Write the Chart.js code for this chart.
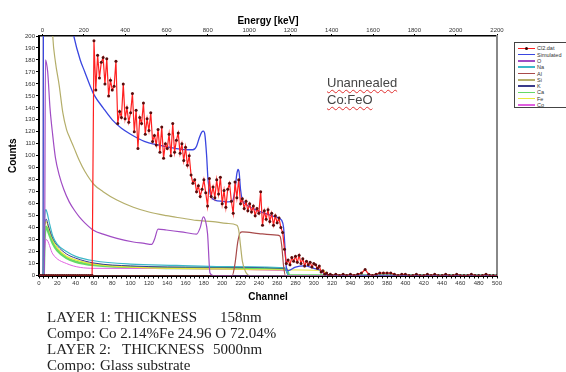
<!DOCTYPE html>
<html>
<head>
<meta charset="utf-8">
<script src="https://cdn.jsdelivr.net/npm/chart.js@4.4.1/dist/chart.umd.min.js"></script>
<style>
  html, body { margin: 0; padding: 0; background: #fff; overflow: hidden; }
  #wrap { position: relative; width: 566px; height: 372px; }
  canvas { position: absolute; left: 0; top: 0; }
  .note { position: absolute; font-family: 'Liberation Sans', Arial, sans-serif; font-size: 13px; color: #444;
          text-decoration: underline wavy #e03030; text-decoration-thickness: 1px; text-underline-offset: 2px; white-space: pre; }
  #legend { position: absolute; left: 514px; top: 42px; width: 60px; height: 66px; border: 1px solid #444; box-sizing: border-box; background: #fff; }
  #legend .ln { position: absolute; left: 3px; width: 17px; height: 1.5px; }
  #legend .dot { position: absolute; left: 10px; width: 3px; height: 3px; border-radius: 50%; background: #300; }
  #legend .lb { position: absolute; left: 22px; font-family: 'Liberation Sans', Arial, sans-serif; font-size: 5.5px; line-height: 6px; color: #333; white-space: pre; }
  .info { position: absolute; font-family: 'Liberation Serif', 'Times New Roman', serif; font-size: 15px; line-height: 16px; color: #222; white-space: pre; }
</style>
</head>
<body>
<div id="wrap">
  <canvas id="c" width="566" height="372"></canvas>
  <div class="note" style="left:327px;top:75px">Unannealed</div>
  <div class="note" style="left:327px;top:92px">Co:FeO</div>
  <div id="legend"></div>
  <div class="info" style="left:47px;top:309px">LAYER 1: THICKNESS</div>
  <div class="info" style="left:220px;top:309px">158nm</div>
  <div class="info" style="left:47px;top:325px">Compo: Co 2.14%Fe 24.96 O 72.04%</div>
  <div class="info" style="left:47px;top:341px">LAYER 2:</div>
  <div class="info" style="left:122px;top:341px">THICKNESS</div>
  <div class="info" style="left:213px;top:341px">5000nm</div>
  <div class="info" style="left:47px;top:357px">Compo:</div>
  <div class="info" style="left:100px;top:357px">Glass substrate</div>
</div>
<script>
// tick labels
const channelMajor = [0,20,40,60,80,100,120,140,160,180,200,220,240,260,280,300,320,340,360,380,400,420,440,460,480,500];
const energyTicks = [0,200,400,600,800,1000,1200,1400,1600,1800,2000,2200];

// measured spectrum (Cl2.dat): three channel segments
const countsLow = [0,0,0,0,0,0,0,0,0,0,0,0,0,0,0,0,0,0,0,0,0,0,0,0,0,0,0,0,0,0]; // ch 0..58 step 2
const countsMain = [196,155,184,165,178,182,160,181,150,163,
  155,158,179,127,137,132,160,131,140,128,
  136,152,120,138,106,132,127,144,118,131,
  121,136,112,117,109,122,103,124,98,110,
  106,118,100,127,103,113,119,102,110,96,
  107,92,100,84,77,80,70,75,66,72,
  80,69,58,81,66,74,65,80,68,82,
  60,71,57,72,77,62,52,78,65,80,
  60,64,56,62,54,60,53,58,50,56,
  52,70,42,54,47,55,45,52,42,50,
  44,48,40,36,22,10,13,9,15,12,
  16,11,17,10,14,8,12,9,11,7,
  10,9,6,8,3,4,1,2,0,1,0]; // ch 60..320 step 2
const countsTail = [1,0,1,0,1,0,1,2,5,1,0,1,2,2,2,2,1,0,1,1,0,0,1,0,0,1,0,1,0,0,1,0,0,1,0,0,0,1,0,0,0,1,0,0,0]; // ch 324..500 step 4

// simulated spectrum
const simCh = [0,4.5,5,10,20,30,38,45,50,55,60,70,80,90,100,115,130,150,165,168,172,175,177.5,179.4,181,183,184.5,187,192,200,206,211,214,216,217.3,218.5,220,222,225,236,250,258,265,267,268.5,270,272,280,290,300,308,312,320,500];
const simVal = [0,0,420,380,300,235,200,180,170,160,151,140,130,123,118,112,109,106,105,105,108,115,119.5,120.5,118,100,80,68,63,62,61.5,62,72,85,88.5,86,72,63,60,55,51,49,46,40,24,7,4,7,8,6,4,1,0,0];

// element contributions
const oCh = [0,6,7,8,9.5,12,15,18,22,27,33,40,44,50,60,70,85,103,115,123,126,130,139,155,172,176,179.4,182,184,186.7,190,500];
const oVal = [0,0,180,178,170,140,117,98,84,72,61.5,53,49,44,37.5,34.5,31,28,26.8,26,30,38.7,38,36.5,34.6,40,49,45,35,2,0,0];
const siCh = [0,4.5,5,10,15,18,22,26,30,33,38,44,50,60,70,85,103,120,139,155,172,190,205,216,218,220,222,225,230,500];
const siVal = [0,0,400,300,200,178,159,136,122,116,107,96,87,76,70,63,57,53,50,48,46,45,43.5,42,38,25,12,4,0,0];
const alCh = [0,211,214,217,219.5,222,240,259.5,263,265,267,269,500];
const alVal = [0,0,10,28,35.5,36.5,35,33.7,33,25,8,0,0];
const naCh = [0,5,6,7.6,9,11,15,20,30,40,60,100,150,200,268,271,272,500];
const naVal = [0,0,45,55,52,45,33,26,20,16,12.3,9.5,8.5,7.5,6.5,2,0,0];
const kCh = [0,5,6,8,10,15,20,30,40,60,100,180,268,271,272,500];
const kVal = [0,0,40,47,42,31,25,18,14.5,10.4,8,7,6,2,0,0];
const caCh = [0,5,6,8,10,15,20,30,40,60,100,150,270,272,273,500];
const caVal = [0,0,30,40.7,37,27,21,14.6,11.5,8.7,7,6.2,5.5,2,0,0];
const feCh = [0,5,6,8,10,15,20,30,40,60,100,200,250,310,314,316,500];
const feVal = [0,0,38,45,41,30,23,16,13,9.5,7,5.5,4.8,4.2,1,0,0];
const coCh = [0,5,6,8,15,30,60,270,272,500];
const coVal = [0,0,20,30,18,10,6,4,0,0];

const legendNames = ['Cl2.dat','Simulated','O','Na','Al','Si','K','Ca','Fe','Co'];
const legendColors = ['#ff2020','#3a46e0','#a04cc4','#3cb8c8','#a84a4a','#b4ae6a','#3a3a8a','#66d966','#e8e83c','#e060e0'];

function pts(ch, vals) { return ch.map((c, i) => ({ x: c, y: vals[i] })); }
function seg(start, step, vals) { return vals.map((v, i) => ({ x: start + i * step, y: v })); }

const measured = [].concat(seg(0, 2, countsLow), seg(60, 2, countsMain), seg(324, 4, countsTail));

function curve(label, data, color, width) {
  return { label, data, borderColor: color, backgroundColor: color, borderWidth: width || 1.2,
           pointRadius: 0, cubicInterpolationMode: 'monotone', fill: false };
}

const minorTicks = [];
for (let v = 0; v <= 500; v += 5) minorTicks.push(v);

const tickFont = { family: 'Liberation Sans', size: 6 };
const titleFont = { family: 'Liberation Sans', size: 10, weight: 'bold' };

new Chart(document.getElementById('c'), {
  type: 'line',
  data: {
    datasets: [
      { label: 'Cl2.dat', data: measured, borderColor: '#ff2020', borderWidth: 1.2, tension: 0,
        pointRadius: 1.5, pointBackgroundColor: '#5a0c0c', pointBorderColor: '#5a0c0c', pointBorderWidth: 0 },
      curve('Simulated', pts(simCh, simVal), '#3a46e0', 1.3),
      curve('O', pts(oCh, oVal), '#a04cc4'),
      curve('Si', pts(siCh, siVal), '#b4ae6a'),
      curve('Al', pts(alCh, alVal), '#a84a4a'),
      curve('Na', pts(naCh, naVal), '#3cb8c8'),
      curve('K', pts(kCh, kVal), '#3a3a8a', 1),
      curve('Fe', pts(feCh, feVal), '#e8e83c'),
      curve('Co', pts(coCh, coVal), '#e060e0', 1),
      curve('Ca', pts(caCh, caVal), '#66d966', 2.5)
    ]
  },
  options: {
    responsive: false,
    animation: false,
    devicePixelRatio: 1,
    layout: { padding: { left: 0, right: 68, top: 0, bottom: 66.5 } },
    plugins: { legend: { display: false }, tooltip: { enabled: false } },
    scales: {
      x: {
        type: 'linear', position: 'bottom', min: 0, max: 500,
        afterBuildTicks: s => { s.ticks = minorTicks.map(v => ({ value: v })); },
        afterFit: s => { s.height = 30; },
        ticks: { autoSkip: false, maxRotation: 0, font: tickFont, color: '#333', padding: 1.5,
                 callback: v => channelMajor.includes(Math.round(v)) ? String(Math.round(v)) : '' },
        grid: { drawOnChartArea: false, drawTicks: true, tickLength: 3, color: '#000' },
        border: { color: '#000', width: 2 },
        title: { display: true, text: 'Channel', font: titleFont, color: '#000', padding: { top: 0, bottom: 2.5 } }
      },
      x2: {
        type: 'linear', position: 'top', min: -17, max: 2200,
        afterBuildTicks: s => { s.ticks = energyTicks.map(v => ({ value: v })); },
        afterFit: s => { s.height = 36; },
        ticks: { autoSkip: false, maxRotation: 0, font: tickFont, color: '#333', padding: 0,
                 callback: v => String(Math.round(v)) },
        grid: { drawOnChartArea: false, drawTicks: true, tickLength: 2, color: '#000' },
        border: { color: '#000', width: 1.5 },
        title: { display: true, text: 'Energy [keV]', font: titleFont, color: '#000', padding: { top: 15.5, bottom: 0 } }
      },
      y: {
        position: 'left', min: 0, max: 200,
        afterFit: s => { s.width = 39; },
        ticks: { stepSize: 10, autoSkip: false, font: tickFont, color: '#333', padding: 1 },
        grid: { drawOnChartArea: false, drawTicks: true, tickLength: 3, color: '#000' },
        border: { color: '#000', width: 2 },
        title: { display: true, text: 'Counts', font: titleFont, color: '#000', padding: { top: 7, bottom: 0 } }
      },
      y2: {
        position: 'right', min: 0, max: 200,
        afterFit: s => { s.width = 1; },
        ticks: { display: false },
        grid: { drawOnChartArea: false, drawTicks: false },
        border: { color: '#888', width: 2 }
      }
    }
  }
});

// legend box
const lg = document.getElementById('legend');
legendNames.forEach((name, i) => {
  const cy = 5.3 + 6.3 * i;
  const ln = document.createElement('div');
  ln.className = 'ln';
  ln.style.top = (cy - 0.75) + 'px';
  ln.style.background = legendColors[i];
  lg.appendChild(ln);
  if (i === 0) {
    const d = document.createElement('div');
    d.className = 'dot';
    d.style.top = (cy - 1.5) + 'px';
    lg.appendChild(d);
  }
  const lb = document.createElement('div');
  lb.className = 'lb';
  lb.style.top = (cy - 3) + 'px';
  lb.textContent = name;
  lg.appendChild(lb);
});
</script>
</body>
</html>
